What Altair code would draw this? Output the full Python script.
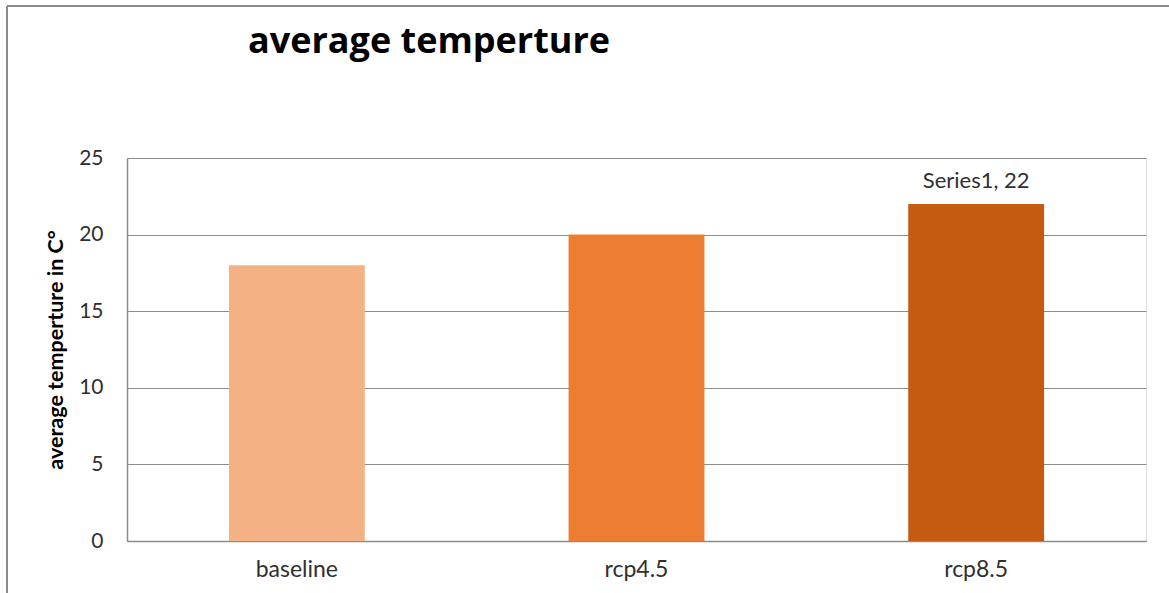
import altair as alt
import pandas as pd

# Scenario averages
scenarios = ["baseline", "rcp4.5", "rcp8.5"]
temperatures = [18, 20, 22]
bar_colors = ["#F4B183", "#ED7D31", "#C55A11"]
point_labels = ["", "", "Series1, 22"]

df = pd.DataFrame({
    "scenario": scenarios,
    "temp": temperatures,
    "label": point_labels,
})

FONT = "Lato"
W, H = 1019, 383

x_enc = alt.X(
    "scenario:N",
    sort=scenarios,
    scale=alt.Scale(paddingInner=0.6, paddingOuter=0.3),
    axis=alt.Axis(
        title=None, labelAngle=0, ticks=False, labelFontSize=23,
        labelColor="#303030", labelFont=FONT, labelPadding=17,
        domainColor="#8c8c8c", domainWidth=1.5,
    ),
)
y_enc = alt.Y(
    "temp:Q",
    scale=alt.Scale(domain=[0, 25], nice=False),
    axis=alt.Axis(
        values=[0, 5, 10, 15, 20, 25], ticks=False, grid=True,
        gridColor="#8c8c8c", gridWidth=1, domainColor="#8c8c8c", domainWidth=1.5,
        labelFontSize=21, labelColor="#303030", labelFont=FONT, labelPadding=24,
        title="average temperture in C°", titleFont=FONT, titleFontSize=21.5,
        titleFontWeight="bold", titleColor="#000000", titlePadding=11,
    ),
)

bars = alt.Chart(df).mark_bar().encode(
    x=x_enc,
    y=y_enc,
    color=alt.Color("scenario:N", scale=alt.Scale(domain=scenarios, range=bar_colors), legend=None),
)

labels = alt.Chart(df).mark_text(
    dy=-23, fontSize=22, font=FONT, color="#303030"
).encode(
    x=alt.X("scenario:N", sort=scenarios),
    y="temp:Q",
    text="label:N",
)

# Outer frame lines around the chart area
frame_top = alt.Chart(df).mark_rule(color="#8c8c8c", strokeWidth=2).encode(
    x=alt.value(-120), x2=alt.value(1100), y=alt.value(-152)
)
frame_left = alt.Chart(df).mark_rule(color="#8c8c8c", strokeWidth=2).encode(
    x=alt.value(-120), y=alt.value(-152), y2=alt.value(500)
)

chart = alt.layer(bars, labels, frame_top, frame_left).properties(
    width=W,
    height=H,
    title=alt.TitleParams(
        "average temperture", font="Open Sans", fontSize=36, fontWeight="bold",
        color="#000000", anchor="start", frame="group", dx=121, offset=-56,
    ),
    autosize="none",
    padding={"left": 127, "top": 158, "right": 23, "bottom": 52},
).configure_view(stroke=None).configure(background="#ffffff")

chart.save("out.html", embed_options={"renderer": "svg", "actions": False})
